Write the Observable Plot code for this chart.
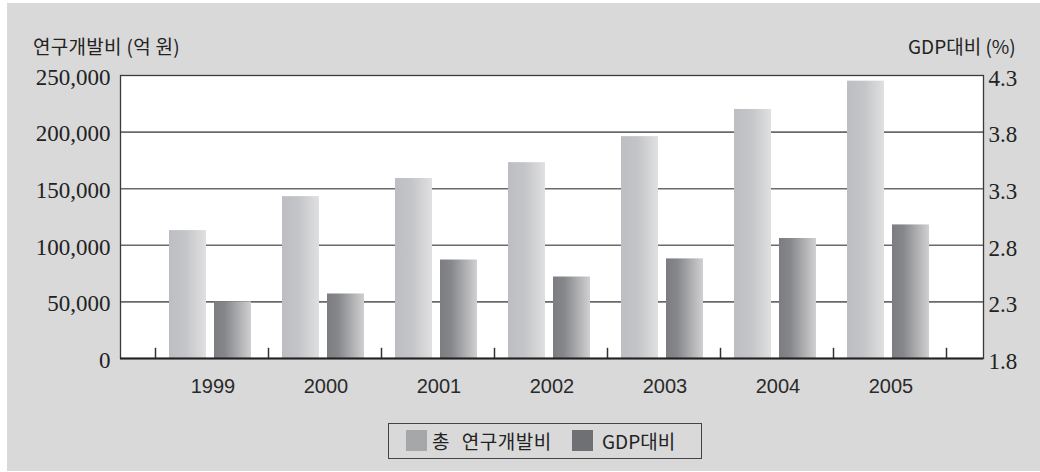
<!DOCTYPE html>
<html>
<head>
<meta charset="utf-8">
<script src="https://cdn.jsdelivr.net/npm/d3@7"></script>
<script src="https://cdn.jsdelivr.net/npm/@observablehq/plot@0.6"></script>
<style>
  html, body { margin: 0; padding: 0; background: #ffffff; }
  #wrap { position: relative; width: 1040px; height: 472px; overflow: hidden; }
  #bg { position: absolute; left: 7px; top: 3px; width: 1033px; height: 468px; background: #d9d9d9; }
  #chart { position: absolute; left: 0; top: 0; }
  #chart g[aria-label="y-axis tick label"] { font-family: "Liberation Serif", "Times New Roman", serif !important; font-size: 23px !important; }
  #chart g[aria-label="y-axis tick label"] text { font-family: "Liberation Serif", "Times New Roman", serif !important; font-size: 23px !important; fill: #222; }
  #chart g[aria-label="x-axis tick label"] { font-family: "Liberation Sans", Arial, sans-serif !important; font-size: 20px !important; }
  #chart g[aria-label="x-axis tick label"] text { font-family: "Liberation Sans", Arial, sans-serif !important; font-size: 20px !important; fill: #2a2a2a; }
  .ttl { position: absolute; font-family: "Noto Sans CJK KR", "Noto Sans", sans-serif; font-size: 19px; color: #222; white-space: nowrap; line-height: 1; }
  #legend { position: absolute; left: 388px; top: 423px; width: 312px; height: 34px; border: 1px solid #444;
            font-family: "Noto Sans CJK KR", sans-serif; font-size: 19px; color: #222; box-sizing: content-box; }
  #legend span { position: absolute; white-space: nowrap; line-height: 1; }
  .sw { width: 21px; height: 21px; top: 6px; }
  .lt { top: 7px; }
</style>
</head>
<body>
<div id="wrap">
  <div id="bg"></div>
  <div id="chart"></div>
  <div class="ttl" id="tl" style="left:33px; top:36px; letter-spacing:0.3px;">연구개발비 (억 원)</div>
  <div class="ttl" id="tr" style="left:908px; top:36px;">GDP대비 (%)</div>
  <div id="legend">
    <span class="sw" style="background:#a6a7a9; left:17px;"></span>
    <span class="lt" style="left:43px; word-spacing:7px; letter-spacing:0.5px;">총 연구개발비</span>
    <span class="sw" style="background:#6f7074; left:183px;"></span>
    <span class="lt" style="left:213px;">GDP대비</span>
  </div>
</div>
<script>
// ---- data ----
const years = ["1999", "2000", "2001", "2002", "2003", "2004", "2005"];
const rdTotal = [113000, 143000, 159000, 173000, 196000, 220000, 245000]; // 억 원
const gdpRatio = [2.30, 2.37, 2.67, 2.52, 2.68, 2.86, 2.98];               // %
const leftTicks = [0, 50000, 100000, 150000, 200000, 250000];
const rightTicks = [1.8, 2.3, 2.8, 3.3, 3.8, 4.3];

// right axis maps onto left axis domain
const rMin = 1.8, rMax = 4.3, lMax = 250000;
const toLeft = v => (v - rMin) / (rMax - rMin) * lMax;

const rdRows = years.map((y, i) => ({year: y, value: rdTotal[i]}));
const gdpRows = years.map((y, i) => ({year: y, value: toLeft(gdpRatio[i])}));
const rightTickPos = rightTicks.map(toLeft);

const plot = Plot.plot({
  width: 1040,
  height: 472,
  marginTop: 75,
  marginBottom: 114,
  marginLeft: 120,
  marginRight: 57,
  style: {background: "transparent", color: "#222", overflow: "visible"},
  x: {type: "band", domain: years, range: [155, 946], padding: 0},
  y: {domain: [0, 250000]},
  marks: [
    Plot.frame({fill: "white", stroke: "none"}),
    Plot.ruleY(leftTicks.slice(1, -1), {stroke: "#6a6a6a", strokeWidth: 1.6}),
    Plot.barY(rdRows, {x: "year", y: "value", fill: "url(#gLight)", insetLeft: 14, insetRight: 62}),
    Plot.barY(gdpRows, {x: "year", y: "value", fill: "url(#gDark)", insetLeft: 59, insetRight: 17}),
    Plot.ruleX(years, {x: d => d, dx: -56.5, y1: 0, y2: 9000, stroke: "#333", strokeWidth: 1.5}),
    Plot.ruleX(years.slice(-1), {x: d => d, dx: 56.5, y1: 0, y2: 9000, stroke: "#333", strokeWidth: 1.5}),
    Plot.frame({stroke: "#3a3a3a", strokeWidth: 1.3}),
    Plot.ruleY([0], {stroke: "#222", strokeWidth: 2}),
    Plot.axisY(leftTicks, {anchor: "left", tickSize: 0, tickPadding: 10, label: null, dy: 2,
      tickFormat: d3.format(",")}),
    Plot.axisY(rightTickPos, {anchor: "right", tickSize: 0, tickPadding: 5, label: null, dy: 3,
      tickFormat: (d, i) => rightTicks[i].toFixed(1)}),
    Plot.axisX(years, {anchor: "bottom", tickSize: 0, tickPadding: 20, label: null, dx: 1})
  ]
});

// gradients for bars
const ns = "http://www.w3.org/2000/svg";
const defs = document.createElementNS(ns, "defs");
defs.innerHTML = `
  <linearGradient id="gLight" x1="0" x2="1" y1="0" y2="0">
    <stop offset="0%" stop-color="#bdbec2"/>
    <stop offset="45%" stop-color="#c4c5c8"/>
    <stop offset="100%" stop-color="#e0e0e1"/>
  </linearGradient>
  <linearGradient id="gDark" x1="0" x2="1" y1="0" y2="0">
    <stop offset="0%" stop-color="#7c7d81"/>
    <stop offset="30%" stop-color="#86878b"/>
    <stop offset="100%" stop-color="#d0d0d1"/>
  </linearGradient>`;
plot.insertBefore(defs, plot.firstChild);
document.getElementById("chart").appendChild(plot);
</script>
</body>
</html>
